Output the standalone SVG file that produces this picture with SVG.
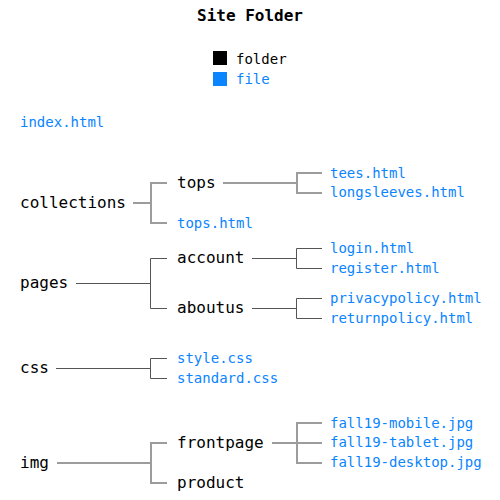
<svg xmlns="http://www.w3.org/2000/svg" width="500" height="500" viewBox="0 0 500 500">
<style>
text{font-family:"DejaVu Sans Mono","Liberation Mono",monospace}
.title{font-size:16px;font-weight:bold;fill:#000;text-anchor:middle}
.folder{font-size:16px;fill:#000}
.file{font-size:14px;fill:#0a84ff}
.leg{font-size:14px}
.ln{fill:none;stroke:#555;stroke-width:1}
.lt{fill:none;stroke:#9c9c9c;stroke-width:2}
</style>
<rect width="500" height="500" fill="#fff"/>
<text class="title" x="250" y="21">Site Folder</text>
<g id="legend">
<rect x="213" y="51" width="14" height="14" fill="#000"/>
<text class="leg" x="236" y="64" fill="#000">folder</text>
<rect x="213" y="72" width="14" height="14" fill="#0a84ff"/>
<text class="leg" x="236" y="84" fill="#0a84ff">file</text>
</g>
<g id="connectors">
<path class="lt" d="M133 203H151M167 183H151V223H167M223 183H297M322 173H297V193H322"/>
<path class="ln" d="M76 283.5H150.5M167 258.5H150.5V308.5H167M252 258.5H296.5M322 248.5H296.5V268.5H322M252 308.5H296.5M322 298.5H296.5V318.5H322"/>
<path class="ln" d="M56 368.5H150.5M167 358.5H150.5V378.5H167"/>
<path class="lt" d="M57 463H151M167 443H151V483H167M272 443H322M322 423H297V463H322"/>
</g>
<g id="index"><text class="file" x="20" y="127">index.html</text></g>
<g id="collections"><text class="folder" x="20" y="207.5">collections</text></g>
<g id="tops"><text class="folder" x="177" y="187.5">tops</text></g>
<g id="tees"><text class="file" x="330" y="177.5">tees.html</text></g>
<g id="longsleeves"><text class="file" x="330" y="197">longsleeves.html</text></g>
<g id="topshtml"><text class="file" x="177" y="227.5">tops.html</text></g>
<g id="pages"><text class="folder" x="20" y="288">pages</text></g>
<g id="account"><text class="folder" x="177" y="263">account</text></g>
<g id="login"><text class="file" x="330" y="253">login.html</text></g>
<g id="register"><text class="file" x="330" y="272.5">register.html</text></g>
<g id="aboutus"><text class="folder" x="177" y="313">aboutus</text></g>
<g id="privacy"><text class="file" x="330" y="303">privacypolicy.html</text></g>
<g id="return"><text class="file" x="330" y="322.5">returnpolicy.html</text></g>
<g id="css"><text class="folder" x="20" y="373">css</text></g>
<g id="style"><text class="file" x="177" y="363">style.css</text></g>
<g id="standard"><text class="file" x="177" y="382.5">standard.css</text></g>
<g id="img"><text class="folder" x="20" y="467.5">img</text></g>
<g id="frontpage"><text class="folder" x="177" y="447.5">frontpage</text></g>
<g id="mobile"><text class="file" x="330" y="427.5">fall19-mobile.jpg</text></g>
<g id="tablet"><text class="file" x="330" y="447">fall19-tablet.jpg</text></g>
<g id="desktop"><text class="file" x="330" y="467">fall19-desktop.jpg</text></g>
<g id="product"><text class="folder" x="177" y="487.5">product</text></g>
</svg>
